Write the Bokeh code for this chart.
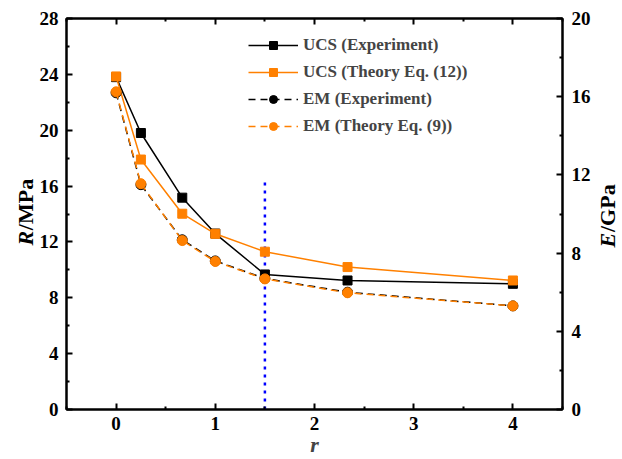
import math
from bokeh.plotting import figure
from bokeh.layouts import row
from bokeh.models import (Range1d, LinearAxis, FixedTicker, Label, Legend, LegendItem)
from bokeh.embed import file_html
from bokeh.resources import INLINE

# ---- data ----
r_vals = [0, 0.25, 0.667, 1, 1.5, 2.333, 4]
ucs_exp = [23.8, 19.8, 15.17, 12.6, 9.67, 9.24, 9.0]
ucs_theory = [23.85, 17.9, 14.02, 12.58, 11.3, 10.2, 9.24]
em_exp = [16.2, 11.5, 8.68, 7.6, 6.7, 6.0, 5.3]
em_theory = [16.25, 11.55, 8.64, 7.57, 6.68, 5.97, 5.30]
r_line = [1.5, 1.5]
r_line_y = [0, 16.6]

x_ticks = [0, 1, 2, 3, 4]
x_minor = [-0.5, 0.5, 1.5, 2.5, 3.5, 4.5]
yl_ticks = [0, 4, 8, 12, 16, 20, 24, 28]
yl_minor = [2, 6, 10, 14, 18, 22, 26]
yr_ticks = [0, 4, 8, 12, 16, 20]
yr_minor = [2, 6, 10, 14, 18]

FONT = "Liberation Serif"
ORANGE = "#FF8000"
H = 459
LW, RW = 36, 28
MW = 622 - LW - RW
FRAME_BOTTOM = 409  # canvas y of the frame bottom (labels in side figs are frame-relative)

p = figure(width=MW, height=H, output_backend="svg", toolbar_location=None,
           x_range=Range1d(-0.5, 4.5), y_range=Range1d(0, 28),
           min_border_left=66 - LW, min_border_right=MW + LW - 562,
           min_border_top=18, min_border_bottom=50,
           background_fill_color="white", border_fill_color="white")
p.extra_y_ranges = {"E": Range1d(0, 20)}
p.grid.visible = False
p.outline_line_color = "black"
p.outline_line_width = 2

def style_axis(ax, ticks, minor, show_labels=True, standoff=6):
    ax.ticker = FixedTicker(ticks=ticks, minor_ticks=minor)
    ax.axis_line_width = 2
    ax.major_tick_line_width = 2
    ax.minor_tick_line_width = 2
    ax.major_tick_in = 6
    ax.major_tick_out = 0
    ax.minor_tick_in = 3
    ax.minor_tick_out = 0
    ax.major_label_text_font = FONT
    ax.major_label_text_font_style = "bold"
    ax.major_label_text_font_size = "19px"
    ax.major_label_text_color = "black" if show_labels else None
    ax.major_label_standoff = standoff

style_axis(p.xaxis[0], x_ticks, x_minor, standoff=7)
style_axis(p.yaxis[0], yl_ticks, yl_minor, standoff=8)
p.xaxis[0].axis_label = "r"
p.xaxis[0].axis_label_text_font = FONT
p.xaxis[0].axis_label_text_font_style = "bold italic"
p.xaxis[0].axis_label_text_font_size = "22px"
p.xaxis[0].axis_label_standoff = -1

right = LinearAxis(y_range_name="E")
style_axis(right, yr_ticks, yr_minor, standoff=9)
p.add_layout(right, "right")
top = LinearAxis()
style_axis(top, x_ticks, x_minor, show_labels=False)
p.add_layout(top, "above")

# vertical blue dotted line
p.line(r_line, r_line_y, line_color="#0000FF", line_width=2.5, line_dash="3 5")

l1 = p.line(r_vals, ucs_exp, line_color="black", line_width=1.5)
m1 = p.scatter(r_vals, ucs_exp, marker="square", size=9, color="black")
l2 = p.line(r_vals, ucs_theory, line_color=ORANGE, line_width=1.5)
m2 = p.scatter(r_vals, ucs_theory, marker="square", size=9, color=ORANGE)
l3 = p.line(r_vals, em_exp, line_color="black", line_width=1.5, line_dash="7 5", y_range_name="E")
m3 = p.scatter(r_vals, em_exp, marker="circle", size=10, color="black", y_range_name="E")
l4 = p.line(r_vals, em_theory, line_color=ORANGE, line_width=1.5, line_dash="7 5", y_range_name="E")
m4 = p.scatter(r_vals, em_theory, marker="circle", size=10, color=ORANGE, y_range_name="E")

legend = Legend(items=[
    LegendItem(label="UCS (Experiment)", renderers=[l1, m1]),
    LegendItem(label="UCS (Theory Eq. (12))", renderers=[l2, m2]),
    LegendItem(label="EM (Experiment)", renderers=[l3, m3]),
    LegendItem(label="EM (Theory Eq. (9))", renderers=[l4, m4]),
], location=(182, 273))
legend.border_line_color = None
legend.background_fill_alpha = 0
legend.label_text_font = FONT
legend.label_text_font_style = "bold"
legend.label_text_font_size = "17px"
legend.glyph_width = 50
legend.glyph_height = 20
legend.label_height = 20
legend.spacing = 7
legend.padding = 0
legend.margin = 0
legend.label_standoff = 5
p.add_layout(legend, "center")

def side_fig(w):
    f = figure(width=w, height=H, output_backend="svg", toolbar_location=None,
               x_range=Range1d(0, 1), y_range=Range1d(0, 1),
               x_axis_location=None, y_axis_location=None,
               min_border=0, background_fill_color="white", border_fill_color="white")
    f.grid.visible = False
    f.outline_line_color = None
    return f

def lab(f, text, x, canvas_y, style, size="22px"):
    f.add_layout(Label(x=x, y=FRAME_BOTTOM - canvas_y, x_units="screen", y_units="screen",
                       text=text, angle=math.pi / 2, text_font=FONT, text_font_style=style,
                       text_font_size=size, text_align="center", text_baseline="middle",
                       text_color="black"))

left_f = side_fig(LW)
lab(left_f, "R", 24.5, 237.7, "bold italic")
lab(left_f, "/MPa", 24.5, 204.0, "bold")

right_f = side_fig(RW)
lab(right_f, "E", 13, 239.7, "bold italic")
lab(right_f, "/GPa", 13, 207.7, "bold")

layout = row(left_f, p, right_f, spacing=0)
open("out.html", "w").write(file_html(layout, INLINE))
